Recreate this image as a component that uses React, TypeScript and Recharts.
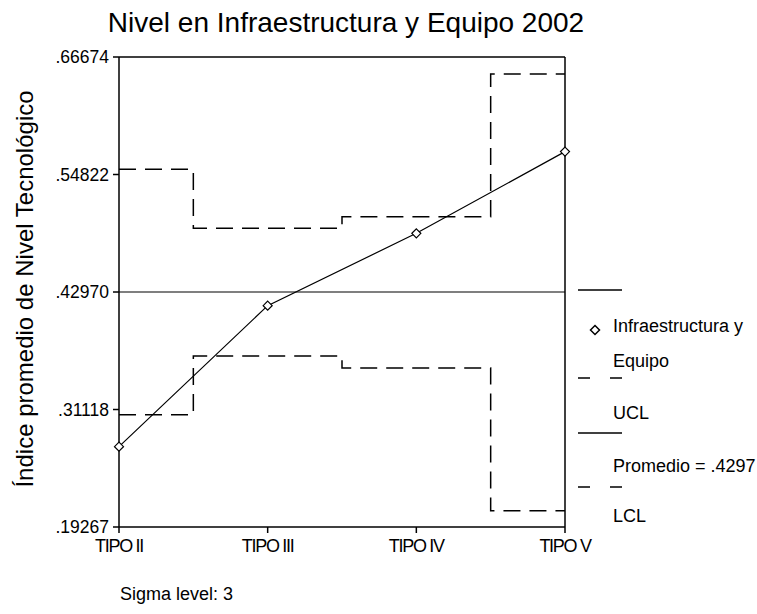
import React from 'react';
import { LineChart, Line, XAxis, YAxis, ReferenceLine } from 'recharts';

const FONT = '"Liberation Sans", Arial, sans-serif';

const tipos = ['TIPO II', 'TIPO III', 'TIPO IV', 'TIPO V'];
const infraestructura = [0.2737, 0.4159, 0.4889, 0.5713];
const ucl = [0.5535, 0.494, 0.5057, 0.6496];
const lcl = [0.3059, 0.3652, 0.3531, 0.2091];
const promedio = 0.4297;

const yTicks = [0.19267, 0.31118, 0.4297, 0.54822, 0.66674];
const yTickLabels = ['.19267', '.31118', '.42970', '.54822', '.66674'];

const data = tipos.map((tipo, i) => ({
  tipo,
  valor: infraestructura[i],
  ucl: ucl[i],
  lcl: lcl[i],
}));

// diamond marker like the SPSS control chart
function Diamond(props: any) {
  const { cx, cy } = props;
  if (cx == null || cy == null) return null;
  const r = 4.5;
  return (
    <polygon
      points={`${cx},${cy - r} ${cx + r},${cy} ${cx},${cy + r} ${cx - r},${cy}`}
      fill="#fff"
      stroke="#000"
      strokeWidth={1.2}
    />
  );
}

export default function App() {
  return (
    <div style={{ position: 'absolute', left: 0, top: 0, width: 757, height: 614, background: '#fff' }}>
      <LineChart width={757} height={614} data={data} margin={{ top: 57, right: 192, left: 0, bottom: 57 }}>
        <XAxis
          dataKey="tipo"
          height={30}
          stroke="#000"
          strokeWidth={1.5}
          tickSize={6}
          tickMargin={6}
          tick={{ fontSize: 18, fill: '#000', fontFamily: FONT, letterSpacing: -1.3 }}
        />
        <YAxis
          width={119}
          type="number"
          domain={[yTicks[0], yTicks[yTicks.length - 1]]}
          ticks={yTicks}
          tickFormatter={(v: number) => yTickLabels[yTicks.indexOf(v)] ?? String(v)}
          stroke="#000"
          strokeWidth={1.5}
          tickSize={6}
          tickMargin={4}
          tick={{ fontSize: 17.5, fill: '#000', fontFamily: FONT }}
        />
        <ReferenceLine y={yTicks[yTicks.length - 1]} stroke="#000" strokeWidth={1.5} />
        <ReferenceLine x={tipos[tipos.length - 1]} stroke="#000" strokeWidth={1.5} />
        <ReferenceLine y={promedio} stroke="#000" strokeWidth={1.2} />
        <Line
          dataKey="ucl"
          type="step"
          stroke="#000"
          strokeWidth={1.5}
          strokeDasharray="17 9"
          dot={false}
          isAnimationActive={false}
        />
        <Line
          dataKey="lcl"
          type="step"
          stroke="#000"
          strokeWidth={1.5}
          strokeDasharray="17 9"
          dot={false}
          isAnimationActive={false}
        />
        <Line
          dataKey="valor"
          type="linear"
          stroke="#000"
          strokeWidth={1.2}
          dot={<Diamond />}
          activeDot={false}
          isAnimationActive={false}
        />
      </LineChart>

      <svg
        width={757}
        height={614}
        style={{ position: 'absolute', left: 0, top: 0, pointerEvents: 'none' }}
        fontFamily={FONT}
      >
        <text x={346} y={32} textAnchor="middle" fontSize={28} fill="#000">
          Nivel en Infraestructura y Equipo 2002
        </text>
        <text transform="translate(33,289) rotate(-90)" textAnchor="middle" fontSize={24} fill="#000">
          Índice promedio de Nivel Tecnológico
        </text>

        {/* legend */}
        <line x1={578} x2={622} y1={290} y2={290} stroke="#000" strokeWidth={1.5} />
        <polygon points="595,325.5 599.5,330 595,334.5 590.5,330" fill="#fff" stroke="#000" strokeWidth={1.5} />
        <text x={613} y={332} fontSize={18} fill="#000">Infraestructura y</text>
        <text x={613} y={367} fontSize={18} fill="#000">Equipo</text>
        <line x1={578} x2={622} y1={378} y2={378} stroke="#000" strokeWidth={1.5} strokeDasharray="12 20" />
        <text x={613} y={419} fontSize={18} fill="#000">UCL</text>
        <line x1={578} x2={622} y1={433} y2={433} stroke="#000" strokeWidth={1.5} />
        <text x={613} y={472} fontSize={18} fill="#000">Promedio = .4297</text>
        <line x1={578} x2={622} y1={487} y2={487} stroke="#000" strokeWidth={1.5} strokeDasharray="12 20" />
        <text x={613} y={522} fontSize={18} fill="#000">LCL</text>

        <text x={120} y={600} fontSize={18} fill="#000">Sigma level: 3</text>
      </svg>
    </div>
  );
}
